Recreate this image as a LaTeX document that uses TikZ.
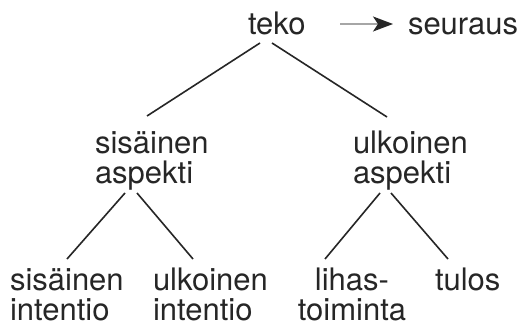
\documentclass[tikz,border=0pt]{standalone}
\usepackage{fontspec}
\setmainfont{TeX Gyre Heros}
\usetikzlibrary{arrows.meta}
\definecolor{ink}{HTML}{262626}
\begin{document}
\begin{tikzpicture}[x=1pt,y=-1pt,
  lab/.style={inner sep=0pt, outer sep=0pt, text=ink, anchor=base west,
    font=\fontsize{31}{30}\selectfont, align=left},
  edge/.style={draw=ink, line width=1.6pt}]
\useasboundingbox[fill=white] (0,0) rectangle (524,326);
\node[lab] (teko) at (248,35) {teko};
\node[lab] (seur) at (408,35) {seuraus};
\node[lab] (sa) at (95,183) {sisäinen\\aspekti};
\node[lab] (ua) at (353,183) {ulkoinen\\aspekti};
\node[lab] (si) at (10,320) {sisäinen\\intentio};
\node[lab] (ui) at (153,320) {ulkoinen\\intentio};
\node[lab, anchor=base, align=center] (lt) at (352,320) {lihas-\\toiminta};
\node[lab] (tu) at (435,290) {tulos};
\draw[edge] ([shift={(12,8)}]teko.base west) -- ([shift={(52,-67)}]sa.base west);
\draw[edge] ([shift={(24,8)}]teko.base west) -- ([shift={(34,-66)}]ua.base west);
\draw[edge] ([shift={(30,10)}]sa.base west) -- ([shift={(57,-61)}]si.base west);
\draw[edge] ([shift={(42,10)}]sa.base west) -- ([shift={(40,-61)}]ui.base west);
\draw[edge] ([shift={(27,10)}]ua.base west) -- ([shift={(-27,-61)}]lt.base);
\draw[edge] ([shift={(38,10)}]ua.base west) -- ([shift={(13,-31)}]tu.base west);
\draw[draw=black!35, line width=1.8pt, -{Stealth[length=20pt,width=15pt,inset=5pt,color=ink]}]
  ([shift={(92,-11)}]teko.base west) -- ([shift={(-15,-11)}]seur.base west);
\end{tikzpicture}
\end{document}
